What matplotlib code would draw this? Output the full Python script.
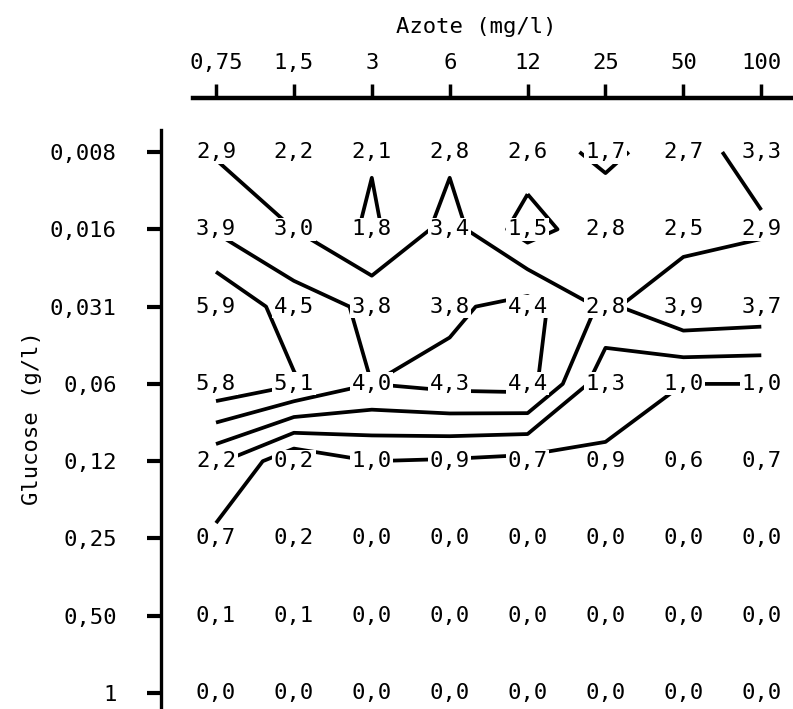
import numpy as np
import matplotlib.pyplot as plt

# axes labels and data (Glucose rows x Azote columns)
azote_labels = ['0,75', '1,5', '3', '6', '12', '25', '50', '100']
glucose_labels = ['0,008', '0,016', '0,031', '0,06', '0,12', '0,25', '0,50', '1']

row_0008 = [2.9, 2.2, 2.1, 2.8, 2.6, 1.7, 2.7, 3.3]
row_0016 = [3.9, 3.0, 1.8, 3.4, 1.5, 2.8, 2.5, 2.9]
row_0031 = [5.9, 4.5, 3.8, 3.8, 4.4, 2.8, 3.9, 3.7]
row_006 = [5.8, 5.1, 4.0, 4.3, 4.4, 1.3, 1.0, 1.0]
row_012 = [2.2, 0.2, 1.0, 0.9, 0.7, 0.9, 0.6, 0.7]
row_025 = [0.7, 0.2, 0.0, 0.0, 0.0, 0.0, 0.0, 0.0]
row_050 = [0.1, 0.1, 0.0, 0.0, 0.0, 0.0, 0.0, 0.0]
row_1 = [0.0, 0.0, 0.0, 0.0, 0.0, 0.0, 0.0, 0.0]

levels = [1, 2, 3, 4, 5]

Z = np.array([row_0008, row_0016, row_0031, row_006,
              row_012, row_025, row_050, row_1])

FONT = 'DejaVu Sans Mono'
FS = 16

fig = plt.figure(figsize=(7.93, 7.09), dpi=100)
# axes box: left spine at x=161px, top spine at y=98px
ax = fig.add_axes([161 / 793, 0, (793 - 161) / 793, (709 - 98) / 709])

x = np.arange(len(azote_labels))
y = np.arange(len(glucose_labels))
X, Y = np.meshgrid(x, y)

# iso-lines drawn by matplotlib from the grid values
ax.contour(X, Y, Z, levels=levels, colors='black', linewidths=2.7, zorder=2)

for i in range(Z.shape[0]):
    for j in range(Z.shape[1]):
        txt = f"{Z[i, j]:.1f}".replace('.', ',')
        ax.text(j, i, txt, ha='center', va='center', family=FONT, fontsize=FS,
                zorder=4, bbox=dict(fc='white', ec='none', pad=1.2))

ax.set_xlim(-0.706, 7.407)
ax.set_ylim(7.206, -0.699)

ax.xaxis.tick_top()
ax.set_xticks(x)
ax.set_xticklabels(azote_labels, family=FONT, fontsize=FS)
ax.set_yticks(y)
ax.set_yticklabels(glucose_labels, family=FONT, fontsize=FS)

ax.tick_params(axis='x', direction='out', length=10, width=2.5, pad=8)
ax.tick_params(axis='y', direction='out', length=10, width=3, pad=22)

ax.spines['right'].set_visible(False)
ax.spines['bottom'].set_visible(False)
ax.spines['top'].set_linewidth(3.2)
ax.spines['top'].set_bounds(-0.30, 7.407)
ax.spines['left'].set_linewidth(2.4)
ax.spines['left'].set_bounds(-0.28, 7.206)

fig.text(476 / 793, 1 - 27 / 709, 'Azote (mg/l)', ha='center', va='center',
         family=FONT, fontsize=FS)
fig.text(32 / 793, 1 - 418 / 709, 'Glucose (g/l)', ha='center', va='center',
         rotation=90, family=FONT, fontsize=FS)

fig.savefig('out.png', dpi=100, facecolor='white')
